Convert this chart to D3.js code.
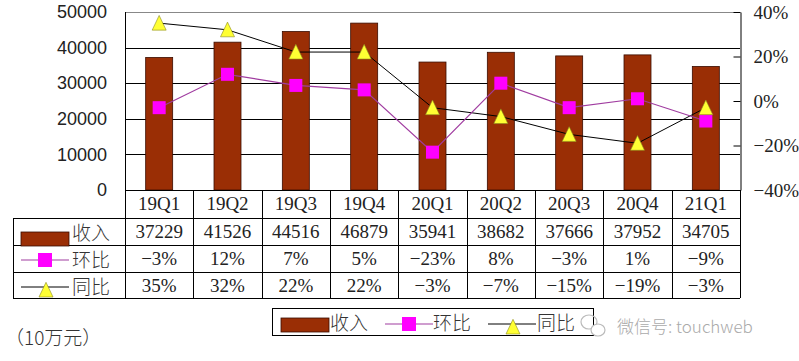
<!DOCTYPE html>
<html><head><meta charset="utf-8">
<script src="https://cdn.jsdelivr.net/npm/d3@7"></script>
<style>
body{margin:0;background:#fff;}
svg{display:block;}
</style></head>
<body><svg id="c" width="799" height="361"></svg>
<script>
const categories = ["19Q1","19Q2","19Q3","19Q4","20Q1","20Q2","20Q3","20Q4","21Q1"];
const revenue = [37229,41526,44516,46879,35941,38682,37666,37952,34705];
const qoq = [-3,12,7,5,-23,8,-3,1,-9];
const yoy = [35,32,22,22,-3,-7,-15,-19,-3];
const leftTicks = [0,10000,20000,30000,40000,50000];
const rightTicks = [-40,-20,0,20,40];
const seriesNames = ["收入","环比","同比"];
const unitLabel = "（10万元）";
const watermark = "微信号: touchweb";

const SERIF = "'Liberation Serif','Noto Sans CJK SC',serif";
const SANS = "'Liberation Sans',sans-serif";
const CJK = "'Noto Sans CJK SC',sans-serif";
const BAR = "#9A2E05", MAG = "#FF00FF", MAGLINE = "#A03CA0", TRI = "#FFFF33";
const svg = d3.select("#c");
const L = 125, R = 740, T = 12, B = 190;
const x = d3.scaleBand().domain(categories).range([L, R]);
const yL = d3.scaleLinear().domain([0, 50000]).range([B, T]);
const yR = d3.scaleLinear().domain([-40, 40]).range([B, T]);
const pct = d => (d < 0 ? "\u2212" : "") + Math.abs(d) + "%";

// gridlines
svg.append("g").selectAll("line").data(leftTicks.filter(d => d > 0)).join("line")
  .attr("x1", L).attr("x2", R).attr("y1", d => Math.round(yL(d)) + 0.5).attr("y2", d => Math.round(yL(d)) + 0.5)
  .attr("stroke", d => d === 50000 ? "#888" : "#000").attr("stroke-width", 1);

// left axis labels
const gl = svg.append("g").attr("transform", `translate(${L},0)`)
  .call(d3.axisLeft(yL).tickValues(leftTicks).tickSize(0).tickPadding(18).tickFormat(d3.format("d")));
gl.select(".domain").remove();
gl.selectAll("text").style("font-size", "18px").style("font-family", SANS).attr("fill", "#222");

// right axis
const gr = svg.append("g").attr("transform", `translate(${R + 0.5},0)`)
  .call(d3.axisRight(yR).tickValues(rightTicks).tickSizeInner(-7).tickSizeOuter(0).tickPadding(13).tickFormat(pct));
gr.select(".domain").attr("stroke", "#000");
gr.selectAll(".tick line").attr("stroke", "#000");
gr.selectAll("text").style("font-size", "19px").style("font-family", SERIF).attr("fill", "#222").attr("text-anchor", "start");

// left plot edge
svg.append("line").attr("x1", L + 0.5).attr("x2", L + 0.5).attr("y1", T).attr("y2", 298).attr("stroke", "#000");

// bars
const bw = 27;
svg.append("g").selectAll("rect").data(revenue).join("rect")
  .attr("x", (d, i) => x(categories[i]) + x.bandwidth() / 2 - bw / 2)
  .attr("y", d => yL(d)).attr("width", bw).attr("height", d => B - yL(d))
  .attr("fill", BAR).attr("stroke", "#3a0d00").attr("stroke-width", 0.8);

const cx = i => x(categories[i]) + x.bandwidth() / 2;
// yoy line
svg.append("path").datum(yoy)
  .attr("d", d3.line().x((d, i) => cx(i)).y(d => yR(d)))
  .attr("fill", "none").attr("stroke", "#000").attr("stroke-width", 1);
// qoq line
svg.append("path").datum(qoq)
  .attr("d", d3.line().x((d, i) => cx(i)).y(d => yR(d)))
  .attr("fill", "none").attr("stroke", MAGLINE).attr("stroke-width", 1.2);

const tri = (cxv, cyv, s) => `M${cxv},${cyv - s * 0.55}L${cxv + s / 2},${cyv + s * 0.5}L${cxv - s / 2},${cyv + s * 0.5}Z`;
svg.append("g").selectAll("rect").data(qoq).join("rect")
  .attr("x", (d, i) => cx(i) - 6.5).attr("y", d => yR(d) - 6.5).attr("width", 13).attr("height", 13)
  .attr("fill", MAG);
svg.append("g").selectAll("path").data(yoy).join("path")
  .attr("d", (d, i) => tri(cx(i), yR(d), 14))
  .attr("fill", TRI).attr("stroke", "#8a8a20").attr("stroke-width", 0.6);

// bottom baseline
svg.append("line").attr("x1", L).attr("x2", R).attr("y1", B + 0.5).attr("y2", B + 0.5).attr("stroke", "#000");

// table
const rowY = [218, 245, 272, 298];
svg.append("g").selectAll("line").data(rowY).join("line")
  .attr("x1", 13).attr("x2", R).attr("y1", d => d + 0.5).attr("y2", d => d + 0.5).attr("stroke", "#000");
svg.append("line").attr("x1", 13.5).attr("x2", 13.5).attr("y1", 218).attr("y2", 298).attr("stroke", "#000");
svg.append("g").selectAll("line").data(categories.slice(1)).join("line")
  .attr("x1", d => Math.round(x(d)) + 0.5).attr("x2", d => Math.round(x(d)) + 0.5)
  .attr("y1", B).attr("y2", 298).attr("stroke", "#000");
svg.append("line").attr("x1", R + 0.5).attr("x2", R + 0.5).attr("y1", B).attr("y2", 298).attr("stroke", "#000");

const tf = "19px";
svg.append("g").selectAll("text").data(categories).join("text")
  .attr("x", (d, i) => cx(i)).attr("y", 210).attr("text-anchor", "middle")
  .style("font-size", tf).style("font-family", SERIF).attr("fill", "#222").text(d => d);
const rows = [revenue.map(String), qoq.map(pct), yoy.map(pct)];
rows.forEach((r, ri) => {
  svg.append("g").selectAll("text").data(r).join("text")
    .attr("x", (d, i) => cx(i)).attr("y", rowY[ri] + 20).attr("text-anchor", "middle")
    .style("font-size", tf).style("font-family", SERIF).attr("fill", "#222").text(d => d);
});

// row keys
function keyBar(g, x0, y0) { g.append("rect").attr("x", x0).attr("y", y0).attr("width", 48).attr("height", 14).attr("fill", BAR).attr("stroke", "#3a0d00").attr("stroke-width", 0.8); }
function keyQoq(g, x0, y0) {
  g.append("line").attr("x1", x0).attr("x2", x0 + 48).attr("y1", y0).attr("y2", y0).attr("stroke", MAGLINE).attr("stroke-width", 1.2);
  g.append("rect").attr("x", x0 + 17).attr("y", y0 - 7).attr("width", 14).attr("height", 14).attr("fill", MAG);
}
function keyYoy(g, x0, y0) {
  g.append("line").attr("x1", x0).attr("x2", x0 + 48).attr("y1", y0).attr("y2", y0).attr("stroke", "#000");
  g.append("path").attr("d", tri(x0 + 25, y0 + 3, 14)).attr("fill", TRI).attr("stroke", "#8a8a20").attr("stroke-width", 0.6);
}
const lbl = (t, x0, y0) => svg.append("text").attr("x", x0).attr("y", y0)
  .style("font-size", "19px").style("font-family", CJK).style("font-weight", 300).attr("fill", "#333").text(t);
keyBar(svg, 21, 232); lbl(seriesNames[0], 72, 240);
keyQoq(svg, 21, 260); lbl(seriesNames[1], 72, 267);
keyYoy(svg, 21, 287); lbl(seriesNames[2], 72, 294);

// legend
svg.append("rect").attr("x", 272.5).attr("y", 308.5).attr("width", 321).attr("height", 27).attr("fill", "none").attr("stroke", "#000");
keyBar(svg, 281, 318); lbl(seriesNames[0], 330, 330);
keyQoq(svg, 385, 324); lbl(seriesNames[1], 433, 330);
keyYoy(svg, 488, 324); lbl(seriesNames[2], 537, 330);

// unit label
lbl(unitLabel, 5, 345);

// watermark
const wm = svg.append("g").attr("fill", "none").attr("stroke", "#bbb").attr("stroke-width", 1.2);
wm.append("ellipse").attr("cx", 589).attr("cy", 322).attr("rx", 8).attr("ry", 7);
wm.append("ellipse").attr("cx", 598).attr("cy", 330).attr("rx", 7).attr("ry", 6).attr("fill", "#fff");
svg.append("text").attr("x", 617).attr("y", 333).style("font-size", "17px").style("font-family", CJK)
  .style("font-weight", 300).attr("fill", "#aaa").text(watermark);
</script></body></html>
